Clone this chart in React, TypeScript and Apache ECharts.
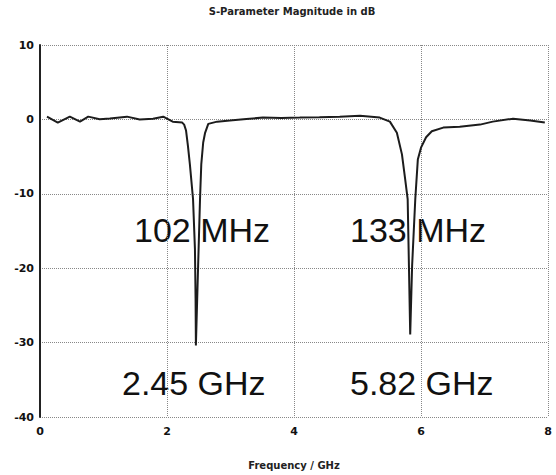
import React, { useEffect, useRef } from "react";
import * as echarts from "echarts";

const chartTitle = "S-Parameter Magnitude in dB";
const xAxisTitle = "Frequency / GHz";

const freqGHz = [
  0.11, 0.28, 0.47, 0.63, 0.76, 0.94, 1.10, 1.37, 1.57, 1.78, 1.94, 2.09, 2.24,
  2.27, 2.30, 2.33, 2.36, 2.41, 2.44, 2.45, 2.455, 2.49, 2.52, 2.54, 2.57, 2.60,
  2.65, 2.79, 2.99, 3.25, 3.51, 3.80, 4.09, 4.40, 4.72, 5.04, 5.35, 5.51, 5.62,
  5.70, 5.75, 5.79, 5.81, 5.83, 5.86, 5.91, 5.95, 6.00, 6.08, 6.17, 6.35, 6.61,
  6.93, 7.13, 7.45, 7.72, 7.95,
];
const s11dB = [
  0.37, -0.43, 0.37, -0.29, 0.37, 0.03, 0.11, 0.37, 0.0, 0.1, 0.37, -0.3, -0.43,
  -0.7, -1.5, -3.6, -6.0, -10.7, -17.4, -24.1, -30.4, -19.7, -10.7, -6.0, -3.1, -1.8,
  -0.6, -0.3, -0.16, 0.05, 0.24, 0.2, 0.24, 0.3, 0.37, 0.5, 0.24, -0.3, -1.8,
  -4.7, -8.0, -10.7, -19.7, -28.9, -19.7, -10.7, -5.4, -3.8, -2.4, -1.6, -1.1, -1.0,
  -0.7, -0.3, 0.1, -0.16, -0.43,
];

const bandwidthLabels = ["102 MHz", "133 MHz"];
const resonanceLabels = ["2.45 GHz", "5.82 GHz"];

export default function App() {
  const ref = useRef<HTMLDivElement>(null);
  useEffect(() => {
    if (!ref.current) return;
    const chart = echarts.init(ref.current, undefined, { renderer: "svg" });
    const labelFont = "DejaVu Sans";
    const bigFont = "34px 'Liberation Sans', Arial, sans-serif";
    chart.setOption({
      animation: false,
      backgroundColor: "#ffffff",
      title: {
        text: chartTitle,
        left: 292,
        top: 6,
        textAlign: "center",
        padding: 0,
        textStyle: { fontFamily: labelFont, fontSize: 10, fontWeight: "bold", color: "#222" },
      },
      grid: { left: 40, right: 8, top: 45, bottom: 56, containLabel: false },
      xAxis: {
        type: "value",
        min: 0,
        max: 8,
        interval: 2,
        name: xAxisTitle,
        nameLocation: "middle",
        nameGap: 43,
        nameTextStyle: { fontFamily: labelFont, fontSize: 10, fontWeight: "bold", color: "#222" },
        axisLine: { show: false },
        axisTick: { show: false },
        axisLabel: { fontFamily: labelFont, fontSize: 11, fontWeight: "bold", color: "#111", margin: 9 },
        splitLine: { show: true, lineStyle: { color: "#888", type: "dotted", width: 1 } },
      },
      yAxis: {
        type: "value",
        min: -40,
        max: 10,
        interval: 10,
        axisLine: { show: true, onZero: false, lineStyle: { color: "#222", width: 2 } },
        axisTick: { show: false },
        axisLabel: { fontFamily: labelFont, fontSize: 11, fontWeight: "bold", color: "#111", margin: 6 },
        splitLine: { show: true, lineStyle: { color: "#888", type: "dotted", width: 1 } },
      },
      series: [
        {
          type: "line",
          data: freqGHz.map((f, i) => [f, s11dB[i]]),
          showSymbol: false,
          symbol: "none",
          smooth: false,
          lineStyle: { color: "#1c1c1c", width: 2 },
        },
      ],
      graphic: [
        { type: "text", x: 134, y: 230, style: { text: bandwidthLabels[0], font: bigFont, fill: "#111", align: "left", verticalAlign: "middle" } },
        { type: "text", x: 350, y: 230, style: { text: bandwidthLabels[1], font: bigFont, fill: "#111", align: "left", verticalAlign: "middle" } },
        { type: "text", x: 122, y: 383, style: { text: resonanceLabels[0], font: bigFont, fill: "#111", align: "left", verticalAlign: "middle" } },
        { type: "text", x: 350, y: 383, style: { text: resonanceLabels[1], font: bigFont, fill: "#111", align: "left", verticalAlign: "middle" } },
      ],
    });
    return () => chart.dispose();
  }, []);
  return (
    <div
      ref={ref}
      style={{ position: "fixed", left: 0, top: 0, width: 556, height: 475, background: "#fff" }}
    />
  );
}
